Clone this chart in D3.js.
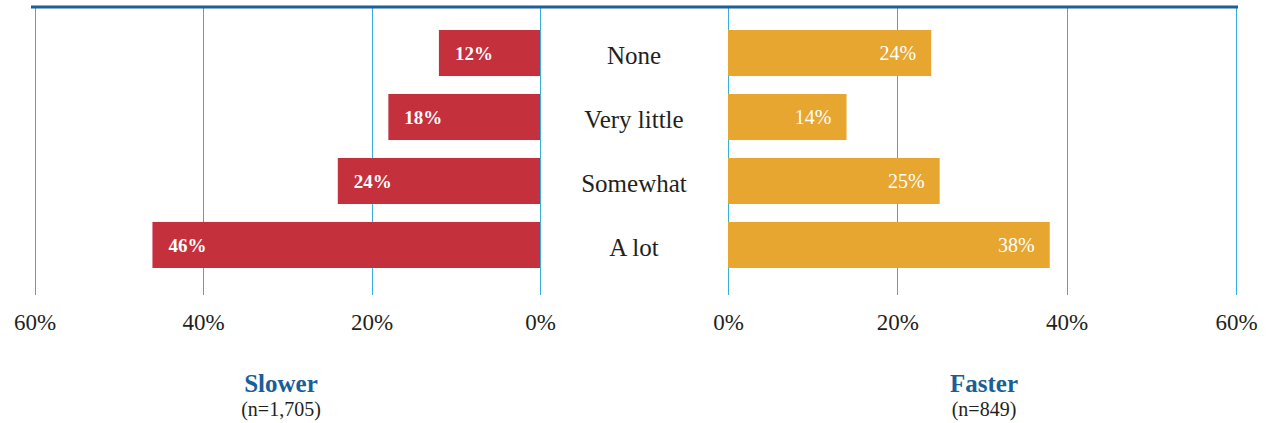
<!DOCTYPE html>
<html>
<head>
<meta charset="utf-8">
<script src="https://cdn.jsdelivr.net/npm/d3@7"></script>
<style>
  html, body { margin: 0; padding: 0; background: #fff; }
  svg { display: block; }
  svg text { font-family: "Liberation Serif", "DejaVu Serif", serif; }
</style>
</head>
<body>
<svg id="chart" width="1266" height="423"></svg>
<script>
// Share of respondents by how much it changed, split by group
const categories = ["None", "Very little", "Somewhat", "A lot"];
const slowerValues = [12, 18, 24, 46];
const fasterValues = [24, 14, 25, 38];
const tickValues = [0, 20, 40, 60];
const groupTitles = ["Slower", "Faster"];
const groupCounts = ["(n=1,705)", "(n=849)"];

const svg = d3.select("#chart");

const xLeft = d3.scaleLinear().domain([0, 60]).range([540, 34.5]);
const xRight = d3.scaleLinear().domain([0, 60]).range([728, 1236]);
const y = d3.scaleBand().domain(categories).range([30, 268]).paddingInner(0.28).paddingOuter(0);

const gridColor = "#3aaddb";
const gridTop = 8, gridBottom = 295;

// vertical grid lines for both panels
const grid = svg.append("g");
[xLeft, xRight].forEach(sc => {
  grid.selectAll(null)
    .data(tickValues)
    .join("line")
    .attr("x1", d => Math.round(sc(d)) + 0.5)
    .attr("x2", d => Math.round(sc(d)) + 0.5)
    .attr("y1", gridTop)
    .attr("y2", gridBottom)
    .attr("stroke", gridColor)
    .attr("stroke-width", 1);
});

// top rule
svg.append("line")
  .attr("x1", 31).attr("x2", 1238)
  .attr("y1", 7).attr("y2", 7)
  .attr("stroke", "#1d5f98")
  .attr("stroke-width", 3);

// slower bars (grow leftwards)
svg.append("g").selectAll("rect")
  .data(categories.map((c, i) => ({ c, v: slowerValues[i] })))
  .join("rect")
  .attr("x", d => xLeft(d.v))
  .attr("y", d => y(d.c))
  .attr("width", d => xLeft(0) - xLeft(d.v))
  .attr("height", y.bandwidth())
  .attr("fill", "#c4303c");

svg.append("g").selectAll("text")
  .data(categories.map((c, i) => ({ c, v: slowerValues[i] })))
  .join("text")
  .attr("x", d => xLeft(d.v) + 16)
  .attr("y", d => y(d.c) + y.bandwidth() / 2)
  .attr("dy", "0.35em")
  .attr("fill", "#fff")
  .attr("font-size", 19)
  .attr("font-weight", "bold")
  .text(d => d.v + "%");

// faster bars (grow rightwards)
svg.append("g").selectAll("rect")
  .data(categories.map((c, i) => ({ c, v: fasterValues[i] })))
  .join("rect")
  .attr("x", xRight(0))
  .attr("y", d => y(d.c))
  .attr("width", d => xRight(d.v) - xRight(0))
  .attr("height", y.bandwidth())
  .attr("fill", "#e6a630");

svg.append("g").selectAll("text")
  .data(categories.map((c, i) => ({ c, v: fasterValues[i] })))
  .join("text")
  .attr("x", d => xRight(d.v) - 15)
  .attr("y", d => y(d.c) + y.bandwidth() / 2)
  .attr("dy", "0.35em")
  .attr("text-anchor", "end")
  .attr("fill", "#fff")
  .attr("font-size", 20)
  .text(d => d.v + "%");

// category labels in the middle gutter
svg.append("g").selectAll("text")
  .data(categories)
  .join("text")
  .attr("x", (xLeft(0) + xRight(0)) / 2)
  .attr("y", d => y(d) + y.bandwidth() / 2)
  .attr("dy", "0.45em")
  .attr("text-anchor", "middle")
  .attr("fill", "#231f20")
  .attr("font-size", 25)
  .text(d => d);

// axes
function drawAxis(sc) {
  const g = svg.append("g")
    .attr("transform", `translate(0,${gridBottom})`)
    .call(d3.axisBottom(sc).tickValues(tickValues).tickSize(0).tickPadding(19).tickFormat(d => d + "%"));
  g.attr("font-family", null);
  g.select(".domain").remove();
  g.selectAll("text")
    .attr("font-size", 23)
    .attr("fill", "#231f20");
}
drawAxis(xLeft);
drawAxis(xRight);

// group titles
const titleX = [281, 984];
titleX.forEach((tx, i) => {
  svg.append("text")
    .attr("x", tx).attr("y", 392)
    .attr("text-anchor", "middle")
    .attr("fill", "#1a5e98")
    .attr("font-size", 25)
    .attr("font-weight", "bold")
    .text(groupTitles[i]);
  svg.append("text")
    .attr("x", tx).attr("y", 416)
    .attr("text-anchor", "middle")
    .attr("fill", "#231f20")
    .attr("font-size", 20)
    .text(groupCounts[i]);
});
</script>
</body>
</html>
